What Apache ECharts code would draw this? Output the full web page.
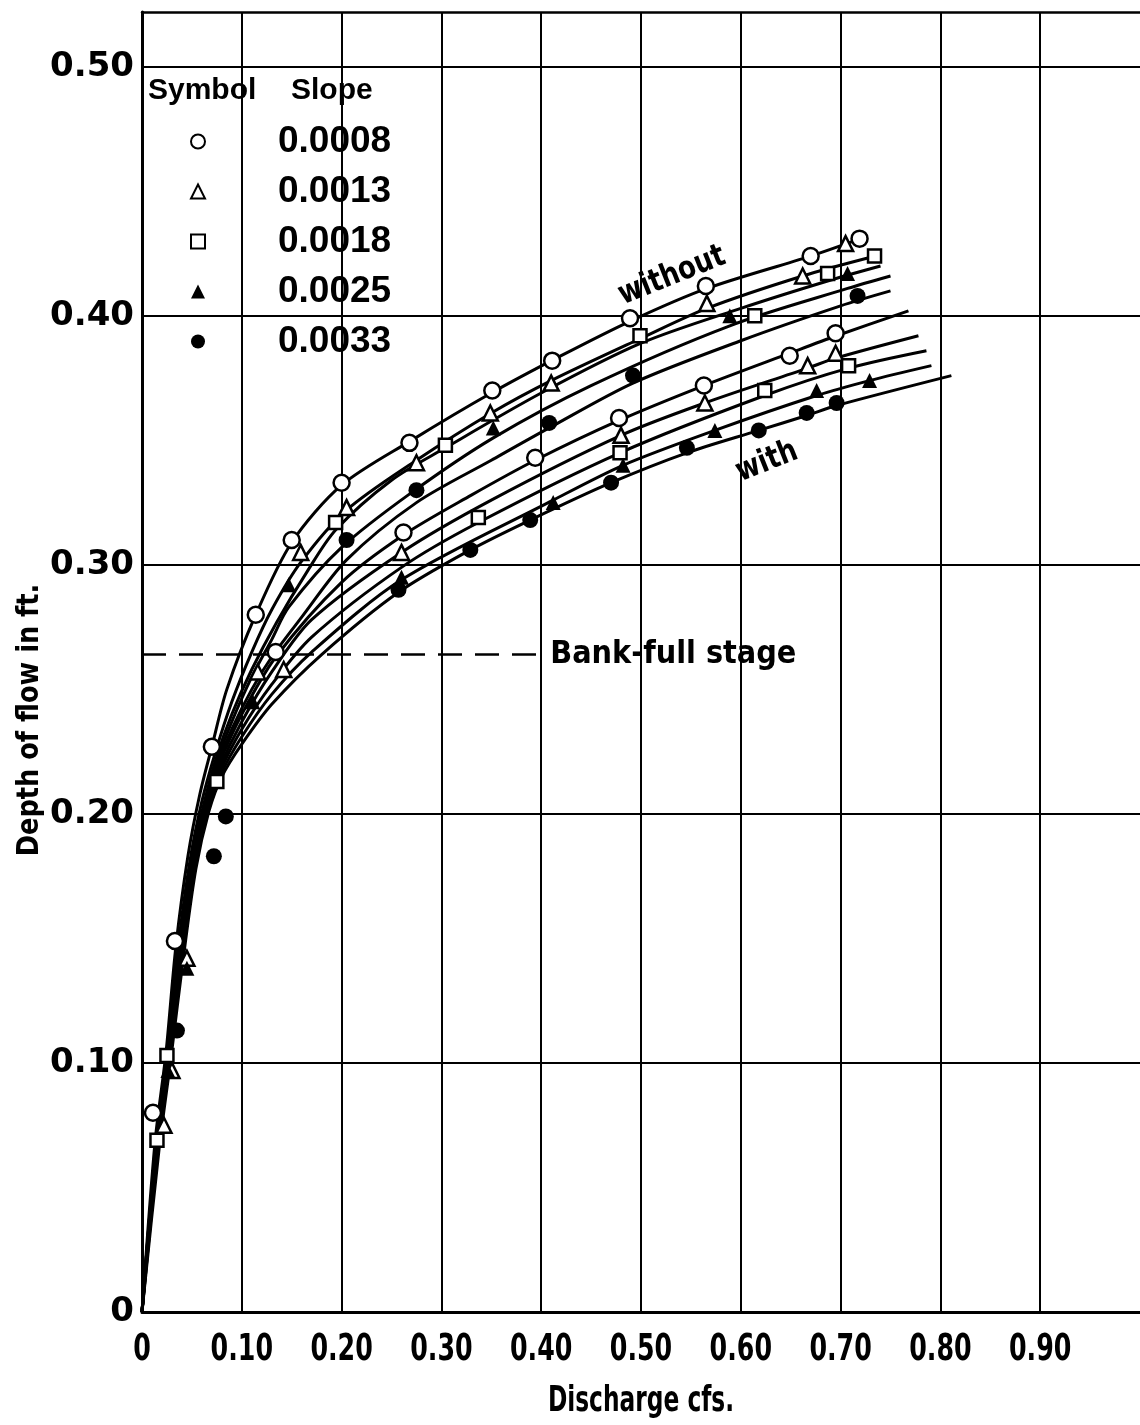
<!DOCTYPE html>
<html>
<head>
<meta charset="utf-8">
<script src="https://cdn.jsdelivr.net/npm/echarts@6/dist/echarts.min.js"></script>
<style>
html,body{margin:0;padding:0;background:#fff;}
#chart{width:1140px;height:1425px;}
</style>
</head>
<body>
<div id="chart"></div>
<script>
// ---- tick labels ----
const xTickValues = [0,0.1,0.2,0.3,0.4,0.5,0.6,0.7,0.8,0.9];
const xTickLabels = ['0','0.10','0.20','0.30','0.40','0.50','0.60','0.70','0.80','0.90'];
const yTickLabels = ['0','0.10','0.20','0.30','0.40','0.50'];
const slopes = ['0.0008','0.0013','0.0018','0.0025','0.0033'];

// ---- fitted curves: without vegetation ----
const without0008 = [[0,0],[0.013,0.068],[0.024,0.104],[0.034,0.147],[0.046,0.183],[0.058,0.208],[0.07,0.227],[0.085,0.25],[0.114,0.28],[0.15,0.309],[0.2,0.332],[0.27,0.35],[0.35,0.369],[0.42,0.384],[0.49,0.398],[0.566,0.411],[0.67,0.424],[0.72,0.431]];
const without0013 = [[0,0],[0.014,0.067],[0.025,0.104],[0.036,0.146],[0.048,0.181],[0.06,0.205],[0.073,0.224],[0.09,0.245],[0.11,0.265],[0.13,0.282],[0.159,0.301],[0.205,0.322],[0.275,0.342],[0.35,0.361],[0.41,0.374],[0.5,0.391],[0.566,0.403],[0.662,0.416],[0.735,0.424]];
const without0018 = [[0,0],[0.014,0.067],[0.026,0.103],[0.037,0.146],[0.049,0.18],[0.062,0.204],[0.074,0.222],[0.09,0.24],[0.11,0.258],[0.135,0.277],[0.165,0.297],[0.194,0.314],[0.25,0.334],[0.304,0.347],[0.4,0.369],[0.5,0.389],[0.6,0.403],[0.687,0.414],[0.74,0.42]];
const without0025 = [[0,0],[0.015,0.067],[0.027,0.103],[0.038,0.146],[0.05,0.18],[0.063,0.203],[0.075,0.221],[0.09,0.237],[0.11,0.255],[0.13,0.27],[0.147,0.283],[0.2,0.307],[0.27,0.329],[0.352,0.351],[0.45,0.372],[0.589,0.396],[0.707,0.411],[0.75,0.416]];
const without0033 = [[0,0],[0.015,0.066],[0.028,0.103],[0.039,0.145],[0.051,0.179],[0.064,0.203],[0.076,0.22],[0.09,0.234],[0.11,0.25],[0.13,0.263],[0.16,0.279],[0.205,0.302],[0.275,0.325],[0.35,0.342],[0.408,0.355],[0.492,0.373],[0.6,0.39],[0.7,0.404],[0.75,0.41]];

// ---- fitted curves: with vegetation ----
const with0008 = [[0,0],[0.014,0.066],[0.026,0.103],[0.038,0.146],[0.05,0.18],[0.062,0.203],[0.076,0.219],[0.1,0.24],[0.134,0.263],[0.2,0.293],[0.262,0.312],[0.33,0.328],[0.394,0.342],[0.478,0.358],[0.563,0.372],[0.649,0.385],[0.696,0.392],[0.768,0.402]];
const with0013 = [[0,0],[0.015,0.066],[0.027,0.102],[0.039,0.145],[0.051,0.18],[0.064,0.203],[0.077,0.218],[0.1,0.237],[0.13,0.257],[0.17,0.278],[0.26,0.305],[0.35,0.326],[0.48,0.352],[0.564,0.365],[0.667,0.379],[0.695,0.383],[0.778,0.392]];
const with0018 = [[0,0],[0.016,0.066],[0.028,0.102],[0.04,0.145],[0.052,0.179],[0.065,0.202],[0.078,0.217],[0.1,0.234],[0.13,0.252],[0.17,0.271],[0.26,0.299],[0.337,0.317],[0.479,0.345],[0.624,0.368],[0.708,0.379],[0.786,0.386]];
const with0025 = [[0,0],[0.016,0.065],[0.028,0.102],[0.041,0.144],[0.053,0.179],[0.066,0.202],[0.079,0.216],[0.1,0.231],[0.13,0.248],[0.17,0.265],[0.26,0.294],[0.412,0.326],[0.482,0.34],[0.574,0.354],[0.676,0.368],[0.729,0.374],[0.791,0.38]];
const with0033 = [[0,0],[0.017,0.065],[0.029,0.102],[0.042,0.144],[0.054,0.178],[0.067,0.201],[0.08,0.215],[0.1,0.228],[0.13,0.244],[0.18,0.264],[0.257,0.289],[0.329,0.306],[0.389,0.318],[0.47,0.333],[0.546,0.345],[0.618,0.354],[0.666,0.36],[0.696,0.364],[0.811,0.376]];

// ---- observed points ----
const pts0008 = [[0.011,0.08],[0.033,0.149],[0.07,0.227],[0.114,0.28],[0.15,0.31],[0.2,0.333],[0.268,0.349],[0.351,0.37],[0.411,0.382],[0.489,0.399],[0.565,0.412],[0.67,0.424],[0.719,0.431],[0.134,0.265],[0.262,0.313],[0.394,0.343],[0.478,0.359],[0.563,0.372],[0.649,0.384],[0.695,0.393]];
const pts0013 = [[0.022,0.075],[0.03,0.097],[0.045,0.142],[0.116,0.257],[0.142,0.258],[0.159,0.305],[0.205,0.323],[0.275,0.341],[0.349,0.361],[0.41,0.373],[0.566,0.405],[0.662,0.416],[0.705,0.429],[0.26,0.305],[0.48,0.352],[0.564,0.365],[0.667,0.38],[0.695,0.385]];
const pts0018 = [[0.015,0.069],[0.025,0.103],[0.075,0.213],[0.194,0.317],[0.304,0.348],[0.499,0.392],[0.614,0.4],[0.687,0.417],[0.734,0.424],[0.337,0.319],[0.479,0.345],[0.624,0.37],[0.708,0.38]];
const pts0025 = [[0.026,0.097],[0.045,0.138],[0.111,0.245],[0.147,0.292],[0.352,0.355],[0.589,0.4],[0.707,0.417],[0.26,0.295],[0.412,0.325],[0.482,0.34],[0.574,0.354],[0.676,0.37],[0.729,0.374]];
const pts0033 = [[0.035,0.113],[0.072,0.183],[0.084,0.199],[0.205,0.31],[0.275,0.33],[0.408,0.357],[0.492,0.376],[0.717,0.408],[0.257,0.29],[0.329,0.306],[0.389,0.318],[0.47,0.333],[0.546,0.347],[0.618,0.354],[0.666,0.361],[0.696,0.365]];

const bankFull = 0.264;
const bankFullEnd = 0.397;

const NARROW = "'DejaVu Sans Condensed','Liberation Sans Narrow','Arial Narrow','DejaVu Sans',sans-serif";
const WIDE = "'DejaVu Sans','Liberation Sans',sans-serif";

const chart = echarts.init(document.getElementById('chart'), null, {renderer:'canvas'});

function curve(name, data, extra) {
  return Object.assign({
    name: name, type: 'line', data: data, smooth: 0.3,
    showSymbol: false, symbol: 'none', silent: true, z: 2,
    lineStyle: {color: '#000', width: 3}
  }, extra || {});
}
function marks(name, data, symbol, size, filled) {
  return {
    name: name, type: 'scatter', data: data, symbol: symbol, symbolSize: size, z: 5,
    itemStyle: {color: filled ? '#000' : '#fff', borderColor: '#000', borderWidth: filled ? 0 : 2.5, opacity: 1}
  };
}

const option = {
  backgroundColor: '#fff',
  animation: false,
  grid: {left: 142, top: 12, width: 1003, height: 1300, show: false},
  xAxis: [{
    type: 'value', min: 0, max: 1.0, interval: 0.1,
    axisLine: {lineStyle: {color: '#000', width: 3}},
    axisTick: {show: false},
    splitLine: {show: true, showMinLine: false, showMaxLine: false, lineStyle: {color: '#000', width: 2}},
    axisLabel: {show: false}
  }, {
    type: 'value', position: 'top', min: 0, max: 1.0, interval: 0.1,
    axisLine: {show: true, onZero: false, lineStyle: {color: '#000', width: 2.5}},
    axisTick: {show: false}, axisLabel: {show: false}, splitLine: {show: false}
  }],
  yAxis: {
    type: 'value', min: 0, max: 0.522, interval: 0.1,
    axisLine: {lineStyle: {color: '#000', width: 3}},
    axisTick: {show: false},
    splitLine: {show: true, showMinLine: false, showMaxLine: false, lineStyle: {color: '#000', width: 2}},
    axisLabel: {
      margin: 8, color: '#000', fontFamily: WIDE, fontWeight: 'bold', fontSize: 34,
      formatter: function (v) { const i = Math.round(v * 10); return (Math.abs(v * 10 - i) < 1e-6 && yTickLabels[i] !== undefined) ? yTickLabels[i] : ''; }
    }
  },
  legend: {
    orient: 'vertical', left: 190, top: 123, padding: 0, itemGap: 13,
    itemWidth: 14, itemHeight: 14,
    data: slopes,
    textStyle: {fontFamily: "'Liberation Sans',sans-serif", fontWeight: 'bold', fontSize: 37, lineHeight: 34, color: '#000', padding: [0, 0, 0, 68]},
    selectedMode: false
  },
  series: [
    curve('without 0.0008', without0008, {
      markLine: {
        silent: true, symbol: ['none', 'none'],
        lineStyle: {color: '#000', width: 2.5, type: [24, 13]},
        label: {show: true, position: 'end', distance: 12, formatter: 'Bank-full stage', color: '#000', fontFamily: NARROW, fontWeight: 'bold', fontSize: 32},
        data: [[{coord: [0, bankFull]}, {coord: [bankFullEnd, bankFull]}]]
      }
    }),
    curve('without 0.0013', without0013),
    curve('without 0.0018', without0018),
    curve('without 0.0025', without0025),
    curve('without 0.0033', without0033),
    curve('with 0.0008', with0008),
    curve('with 0.0013', with0013),
    curve('with 0.0018', with0018),
    curve('with 0.0025', with0025),
    curve('with 0.0033', with0033),
    marks(slopes[0], pts0008, 'circle', 16, false),
    marks(slopes[1], pts0013, 'triangle', 15, false),
    marks(slopes[2], pts0018, 'rect', 13, false),
    marks(slopes[3], pts0025, 'triangle', 15, true),
    marks(slopes[4], pts0033, 'circle', 16, true)
  ]
};
chart.setOption(option);

// texts placed with the chart's own scales
const base = chart.convertToPixel({gridIndex: 0}, [0, 0]);
const graphics = [
  {type: 'text', left: 148, top: 76, style: {text: 'Symbol', font: "bold 30px 'Liberation Sans',sans-serif", fill: '#000'}},
  {type: 'text', left: 291, top: 76, style: {text: 'Slope', font: "bold 30px 'Liberation Sans',sans-serif", fill: '#000'}},
  {type: 'text', x: 672, y: 276, rotation: 0.38, scaleX: 0.9, style: {text: 'without', font: "bold 32px " + NARROW, fill: '#000', align: 'center', verticalAlign: 'middle'}},
  {type: 'text', x: 767, y: 462, rotation: 0.38, scaleX: 0.9, style: {text: 'with', font: "bold 32px " + NARROW, fill: '#000', align: 'center', verticalAlign: 'middle'}},
  {type: 'text', x: 30, y: 720, rotation: Math.PI / 2, scaleX: 0.95, style: {text: 'Depth of flow in ft.', font: "bold 30px " + NARROW, fill: '#000', align: 'center', verticalAlign: 'middle'}},
  {type: 'text', x: chart.convertToPixel({gridIndex: 0}, [0.5, 0])[0], y: base[1] + 90, scaleX: 0.72, style: {text: 'Discharge cfs.', font: "bold 36px " + NARROW, fill: '#000', align: 'center', verticalAlign: 'middle'}}
];
xTickValues.forEach(function (v, i) {
  const p = chart.convertToPixel({gridIndex: 0}, [v, 0]);
  graphics.push({type: 'text', x: p[0], y: p[1] + 38, scaleX: 0.74, style: {text: xTickLabels[i], font: "bold 38px " + NARROW, fill: '#000', align: 'center', verticalAlign: 'middle'}});
});
chart.setOption({graphic: graphics});
</script>
</body>
</html>
